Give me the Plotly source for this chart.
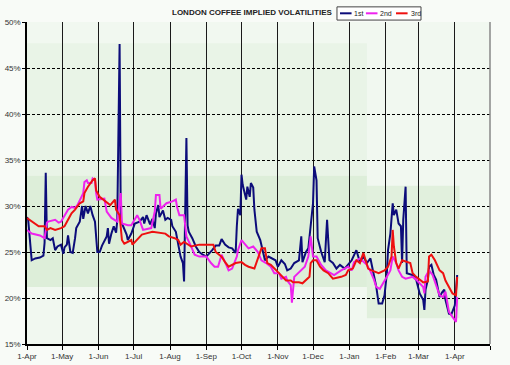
import plotly.graph_objects as go

# ---------------- data ----------------
first_dates = [
    "2005-04-01","2005-04-02","2005-04-05","2005-04-08","2005-04-12","2005-04-15","2005-04-16","2005-04-17","2005-04-18",
    "2005-04-21","2005-04-23","2005-04-25","2005-04-27","2005-04-30","2005-05-02","2005-05-03","2005-05-05","2005-05-06",
    "2005-05-08","2005-05-10","2005-05-12","2005-05-13","2005-05-16","2005-05-18","2005-05-19","2005-05-21","2005-05-23",
    "2005-05-25","2005-05-27","2005-05-29","2005-05-31","2005-06-02","2005-06-04","2005-06-08","2005-06-09","2005-06-10",
    "2005-06-12","2005-06-14","2005-06-16","2005-06-17","2005-06-19","2005-06-20","2005-06-22","2005-06-25","2005-06-26",
    "2005-06-29","2005-07-02","2005-07-05","2005-07-06","2005-07-09","2005-07-10","2005-07-12","2005-07-15","2005-07-17",
    "2005-07-19","2005-07-20","2005-07-22","2005-07-23","2005-07-26","2005-07-28","2005-07-30","2005-08-02","2005-08-03",
    "2005-08-06","2005-08-07","2005-08-09","2005-08-10","2005-08-12","2005-08-13","2005-08-15","2005-08-16","2005-08-17",
    "2005-08-20","2005-08-23","2005-08-26","2005-08-29","2005-09-01","2005-09-06","2005-09-09","2005-09-12","2005-09-14",
    "2005-09-17","2005-09-20","2005-09-23","2005-09-26","2005-09-27","2005-09-28","2005-09-30","2005-10-01","2005-10-02",
    "2005-10-05","2005-10-06","2005-10-08","2005-10-09","2005-10-11","2005-10-12","2005-10-14","2005-10-17","2005-10-21",
    "2005-10-24","2005-10-27","2005-10-30","2005-11-01","2005-11-04","2005-11-07","2005-11-09","2005-11-12","2005-11-15",
    "2005-11-19","2005-11-21","2005-11-22","2005-11-25","2005-11-27","2005-11-29","2005-12-01","2005-12-02","2005-12-04",
    "2005-12-05","2005-12-08","2005-12-11","2005-12-13","2005-12-15","2005-12-18","2005-12-21","2005-12-24","2005-12-28",
    "2005-12-31","2006-01-03","2006-01-07","2006-01-10","2006-01-13","2006-01-16","2006-01-19","2006-01-22","2006-01-24",
    "2006-01-26","2006-01-29","2006-01-31","2006-02-02","2006-02-03","2006-02-05","2006-02-07","2006-02-08","2006-02-10",
    "2006-02-12","2006-02-14","2006-02-15","2006-02-16","2006-02-18","2006-02-19","2006-02-24","2006-02-27","2006-03-02",
    "2006-03-05","2006-03-06","2006-03-07","2006-03-09","2006-03-10","2006-03-12","2006-03-14","2006-03-16","2006-03-19",
    "2006-03-21","2006-03-23","2006-03-24","2006-03-27","2006-03-29","2006-04-01","2006-04-03",
]
first_vals = [
    28.8,28.5,24.1,24.3,24.4,24.6,26.0,33.6,26.5,
    26.3,26.5,25.2,25.6,25.8,24.8,25.5,25.8,26.8,
    25.0,24.9,26.5,27.6,28.3,30.0,28.6,30.0,29.2,
    30.0,29.0,28.3,25.0,25.0,25.7,26.7,27.6,25.9,
    27.0,27.8,27.1,28.4,47.6,28.4,27.8,26.9,26.3,
    27.0,28.1,28.3,28.3,28.8,28.1,29.0,28.0,28.6,
    27.6,29.2,30.1,28.8,29.5,28.5,28.7,28.5,27.8,
    27.2,26.5,25.4,24.5,23.8,21.8,37.4,27.9,27.2,
    26.5,25.6,25.0,24.7,24.5,25.2,25.7,25.7,26.4,
    25.8,25.5,25.4,24.9,27.8,29.7,29.0,33.4,32.3,
    30.7,32.1,31.0,32.5,32.0,29.6,27.2,26.3,24.1,
    24.5,24.3,24.1,23.4,24.1,23.7,23.0,23.2,23.8,
    24.1,26.7,23.9,25.0,25.4,28.1,30.3,34.3,32.8,
    26.5,25.0,23.9,28.5,24.1,23.8,23.2,23.6,23.2,
    23.6,24.1,25.2,23.9,24.5,23.8,24.3,22.3,21.2,
    19.4,19.4,20.3,22.7,25.2,27.0,30.3,29.0,29.6,
    28.1,27.8,23.8,28.5,32.1,22.7,22.5,22.0,20.5,
    19.8,18.7,20.9,22.0,23.4,23.6,22.5,22.0,20.1,
    20.6,20.9,19.8,18.3,18.2,19.2,22.5,
]

second_dates = [
    "2005-04-01","2005-04-05","2005-04-12","2005-04-16","2005-04-18","2005-04-19","2005-04-25","2005-04-28","2005-04-30",
    "2005-05-03","2005-05-06","2005-05-09","2005-05-12","2005-05-14","2005-05-17","2005-05-19","2005-05-20","2005-05-22",
    "2005-05-23","2005-05-26","2005-05-27","2005-05-29","2005-05-30","2005-05-31","2005-06-06","2005-06-08","2005-06-12",
    "2005-06-17","2005-06-18","2005-06-20","2005-06-21","2005-06-26","2005-06-29","2005-07-02","2005-07-04","2005-07-06",
    "2005-07-09","2005-07-16","2005-07-19","2005-07-20","2005-07-23","2005-07-24","2005-07-29","2005-08-03","2005-08-06",
    "2005-08-07","2005-08-09","2005-08-13","2005-08-15","2005-08-19","2005-08-22","2005-08-26","2005-09-01","2005-09-05",
    "2005-09-08","2005-09-11","2005-09-14","2005-09-18","2005-09-20","2005-09-23","2005-09-27","2005-09-28","2005-10-01",
    "2005-10-03","2005-10-07","2005-10-11","2005-10-15","2005-10-18","2005-10-22","2005-10-26","2005-10-29","2005-11-02",
    "2005-11-04","2005-11-08","2005-11-09","2005-11-12","2005-11-13","2005-11-15","2005-11-21","2005-11-24","2005-11-27",
    "2005-11-28","2005-11-29","2005-12-01","2005-12-04","2005-12-08","2005-12-12","2005-12-19","2005-12-25","2005-12-31",
    "2006-01-03","2006-01-05","2006-01-10","2006-01-16","2006-01-19","2006-01-22","2006-01-24","2006-01-27","2006-01-30",
    "2006-02-02","2006-02-05","2006-02-07","2006-02-10","2006-02-12","2006-02-15","2006-02-18","2006-02-24","2006-02-27",
    "2006-03-05","2006-03-06","2006-03-07","2006-03-10","2006-03-13","2006-03-19","2006-03-22","2006-03-24","2006-03-27",
    "2006-03-30","2006-04-02","2006-04-03",
]
second_vals = [
    27.4,27.0,26.8,26.5,28.2,28.3,28.5,28.2,28.3,
    29.0,29.6,29.9,29.8,30.1,31.0,31.4,32.6,32.8,
    32.5,32.5,33.0,32.8,31.4,30.7,30.8,29.4,28.7,
    28.3,29.4,31.4,28.1,27.9,27.9,28.5,29.0,28.5,
    27.4,27.6,29.4,31.2,31.2,29.7,30.3,30.5,30.7,
    29.9,29.0,29.0,26.7,25.6,24.7,24.5,24.5,23.8,
    23.4,23.4,24.7,23.6,23.0,23.2,24.5,25.2,26.3,
    26.0,25.4,25.6,25.0,24.1,23.8,23.4,22.7,22.7,
    22.1,22.3,21.9,21.4,19.5,22.3,23.0,23.4,24.5,
    25.6,26.7,24.5,24.5,23.6,23.0,22.5,23.0,23.4,
    23.0,23.9,24.3,23.6,22.9,22.0,21.2,21.0,21.6,
    22.3,23.0,24.5,23.8,23.0,22.3,22.1,22.3,22.0,
    21.2,20.5,22.3,23.0,22.5,20.3,20.1,20.7,18.5,
    18.0,17.4,20.1,
]

third_dates = [
    "2005-04-01","2005-04-05","2005-04-11","2005-04-16","2005-04-18","2005-04-21","2005-04-25","2005-04-30","2005-05-03",
    "2005-05-06","2005-05-09","2005-05-12","2005-05-16","2005-05-19","2005-05-20","2005-05-23","2005-05-25","2005-05-27",
    "2005-05-29","2005-05-30","2005-06-02","2005-06-05","2005-06-11","2005-06-15","2005-06-16","2005-06-19","2005-06-20",
    "2005-06-21","2005-06-23","2005-06-29","2005-06-30","2005-07-05","2005-07-08","2005-07-11","2005-07-17","2005-07-28",
    "2005-07-31","2005-08-05","2005-08-08","2005-08-10","2005-08-13","2005-08-19","2005-08-26","2005-09-01","2005-09-07",
    "2005-09-09","2005-09-14","2005-09-17","2005-09-20","2005-09-26","2005-10-01","2005-10-04","2005-10-07","2005-10-12",
    "2005-10-18","2005-10-21","2005-10-23","2005-10-26","2005-10-31","2005-11-02","2005-11-08","2005-11-12","2005-11-14",
    "2005-11-19","2005-11-22","2005-11-25","2005-11-28","2005-11-29","2005-12-01","2005-12-04","2005-12-07","2005-12-10",
    "2005-12-14","2005-12-18","2005-12-25","2005-12-29","2005-12-31","2006-01-04","2006-01-07","2006-01-10","2006-01-13",
    "2006-01-17","2006-01-20","2006-01-26","2006-01-31","2006-02-03","2006-02-06","2006-02-07","2006-02-08","2006-02-10",
    "2006-02-12","2006-02-15","2006-02-21","2006-02-22","2006-02-24","2006-02-27","2006-03-05","2006-03-09","2006-03-10",
    "2006-03-12","2006-03-15","2006-03-19","2006-03-22","2006-03-24","2006-03-27","2006-03-30","2006-04-02","2006-04-03",
]
third_vals = [
    28.7,28.3,27.8,27.8,27.4,27.6,27.4,27.6,27.8,
    28.5,29.2,29.6,30.3,30.5,31.4,32.1,32.5,32.8,
    33.0,31.7,31.0,30.7,30.1,30.7,29.6,29.0,27.8,
    26.3,25.9,26.3,25.8,26.5,26.9,27.0,27.2,27.0,
    26.7,26.5,26.3,25.8,26.1,25.6,25.8,25.8,25.8,
    25.0,24.5,23.9,23.4,23.8,23.9,23.6,23.4,23.2,
    25.4,25.4,23.8,23.6,23.0,22.7,21.9,21.9,21.7,
    21.7,21.6,21.9,22.3,23.8,24.1,24.1,23.4,23.0,
    22.7,22.1,22.3,22.5,23.0,23.2,24.1,23.8,24.9,
    23.2,23.0,22.7,23.0,23.4,24.5,27.4,25.6,23.8,
    23.2,24.1,23.9,23.8,22.7,22.3,21.7,21.8,24.5,
    24.7,24.1,23.0,22.7,21.9,21.2,20.5,20.3,22.3,
]

series_names = ["1st", "2nd", "3rd"]
series_colors = ["#0c0c7a", "#ee22ee", "#ee1010"]

tick_dates = ["2005-04-01","2005-05-01","2005-06-01","2005-07-01","2005-08-01","2005-09-01","2005-10-01",
              "2005-11-01","2005-12-01","2006-01-01","2006-02-01","2006-03-01","2006-04-01","2006-05-01"]
tick_labels = ["1-Apr","1-May","1-Jun","1-Jul","1-Aug","1-Sep","1-Oct","1-Nov","1-Dec","1-Jan","1-Feb","1-Mar","1-Apr",""]
y_ticks = [15, 20, 25, 30, 35, 40, 45, 50]
y_labels = ["15%","20%","25%","30%","35%","40%","45%","50%"]

x_range = ["2005-04-01", "2006-05-01"]
y_range = [15, 50]

# background shaded zones (date from, date to, low %, high %)
zones = [
    ("2005-04-01", "2006-01-16", 33.3, 47.7, "#e9f4e7"),
    ("2005-04-01", "2006-01-16", 21.2, 33.3, "#ddeed9"),
    ("2006-01-16", "2006-04-05", 17.8, 32.2, "#e1f0dd"),
]

FONT = "Liberation Sans, Arial, sans-serif"

fig = go.Figure()

for (x0, x1, lo, hi, col) in zones:
    fig.add_shape(type="rect", xref="x", yref="y", x0=x0, x1=x1, y0=lo, y1=hi,
                  fillcolor=col, line_width=0, layer="below")

for name, dates, vals, col in zip(series_names, [first_dates, second_dates, third_dates],
                                  [first_vals, second_vals, third_vals], series_colors):
    fig.add_trace(go.Scatter(x=dates, y=vals, name=name, mode="lines",
                             line=dict(color=col, width=2), showlegend=False, hoverinfo="skip"))

fig.update_layout(
    width=510, height=365,
    margin=dict(l=27, r=20, t=22, b=21, autoexpand=False),
    paper_bgcolor="#f8fbf7",
    plot_bgcolor="#f1f8f0",
    font=dict(family=FONT, size=8, color="#333333"),
    showlegend=False,
    xaxis=dict(type="date", range=x_range, tickvals=tick_dates, ticktext=tick_labels,
               showgrid=True, gridcolor="#1a1a1a", gridwidth=1, automargin=False,
               ticks="outside", ticklen=4, tickcolor="#000000",
               showline=True, linecolor="#000000", linewidth=1.5,
               tickfont=dict(size=8, color="#333333")),
    yaxis=dict(range=y_range, tickvals=y_ticks, ticktext=y_labels, automargin=False,
               showgrid=True, gridcolor="#000000", gridwidth=1, griddash="3px,2px",
               ticks="outside", ticklen=3, tickcolor="#000000",
               showline=True, linecolor="#000000", linewidth=1.5, zeroline=False,
               tickfont=dict(size=8, color="#333333")),
)

# right border
fig.add_shape(type="line", xref="paper", yref="paper", x0=1, x1=1, y0=0, y1=1,
              line=dict(color="#888888", width=1.5))

# title
fig.add_annotation(text="<b>LONDON COFFEE IMPLIED VOLATILITIES</b>", xref="paper", yref="paper",
                   x=0.488, y=1.028, showarrow=False, font=dict(size=8, color="#222222", family=FONT),
                   xanchor="center", yanchor="middle")

# legend box
fig.add_shape(type="rect", xref="paper", yref="paper", x0=0.6695, x1=0.851, y0=1.006, y1=1.047,
              line=dict(color="#444444", width=1), fillcolor="#ffffff")
leg_x = [0.676, 0.732, 0.797]
for name, col, lx in zip(series_names, series_colors, leg_x):
    fig.add_shape(type="line", xref="paper", yref="paper", x0=lx, x1=lx + 0.025, y0=1.027, y1=1.027,
                  line=dict(color=col, width=2))
    fig.add_annotation(text=name, xref="paper", yref="paper", x=lx + 0.027, y=1.027, showarrow=False,
                       xanchor="left", yanchor="middle", font=dict(size=7, color="#222222", family=FONT))

# remove the browser's default 8px body margin so the figure sits at the page's top-left corner
fig.write_html("out.html", config={"displayModeBar": False},
               post_script="document.body.style.margin='0px';")
